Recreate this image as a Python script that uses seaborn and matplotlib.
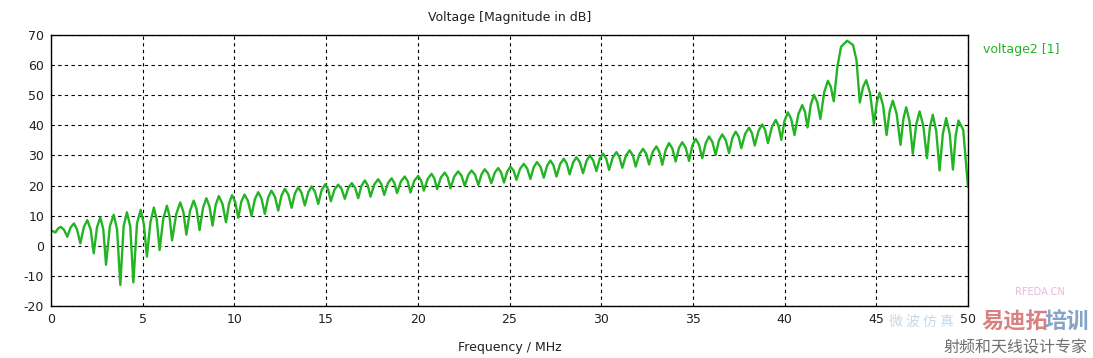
import matplotlib
matplotlib.use("Agg")
import matplotlib.pyplot as plt
import seaborn as sns
import pandas as pd

# ---- data ----
# local maxima of the trace
peak_freq = [0.00, 0.53, 1.25, 1.98, 2.69, 3.42, 4.14, 4.89, 5.61, 6.32, 7.05, 7.78,
             8.47, 9.15, 9.87, 10.55, 11.30, 12.02, 12.75, 13.48, 14.21, 14.95, 15.66,
             16.40, 17.11, 17.84, 18.57, 19.29, 20.02, 20.75, 21.47, 22.20, 22.93,
             23.65, 24.38, 25.05, 25.78, 26.50, 27.23, 27.96, 28.65, 29.38, 30.10,
             30.83, 31.55, 32.28, 33.01, 33.70, 34.42, 35.15, 35.88, 36.60, 37.33,
             38.06, 38.78, 39.52, 40.18, 40.96, 41.60, 42.36, 44.45, 45.18, 45.90,
             46.63, 47.36, 48.08, 48.81, 49.48, 50.00]
peak_db = [5.0, 6.3, 7.4, 8.5, 9.4, 10.3, 11.1, 11.9, 12.7, 13.3, 14.4, 15.0,
           15.8, 16.5, 16.8, 17.0, 17.8, 18.3, 18.9, 19.4, 19.7, 20.4, 20.3,
           20.8, 21.7, 22.1, 22.4, 23.0, 23.2, 23.9, 24.3, 24.7, 25.0,
           25.4, 25.8, 26.3, 27.2, 27.8, 28.3, 28.9, 29.4, 30.0, 30.6,
           31.1, 31.7, 32.2, 33.0, 34.1, 34.4, 35.5, 36.3, 37.0, 37.9,
           39.2, 40.3, 41.8, 44.3, 46.7, 50.1, 54.8, 55.0, 50.8, 48.2,
           46.0, 44.6, 43.5, 42.4, 41.6, 19.5]

# local minima (sharp notches)
dip_freq = [0.24, 0.89, 1.60, 2.33, 3.00, 3.78, 4.49, 5.23, 5.92, 6.60, 7.38, 8.10,
            8.81, 9.54, 10.21, 10.93, 11.66, 12.39, 13.12, 13.84, 14.57, 15.26,
            16.02, 16.75, 17.42, 18.17, 18.87, 19.60, 20.33, 21.05, 21.78, 22.56,
            23.30, 24.01, 24.70, 25.38, 26.14, 26.87, 27.56, 28.28, 29.01, 29.74,
            30.43, 31.15, 31.88, 32.61, 33.33, 34.06, 34.79, 35.51, 36.24, 36.97,
            37.64, 38.37, 39.09, 39.82, 40.54, 41.25, 41.95, 42.68, 44.10, 44.87,
            45.56, 46.32, 46.99, 47.76, 48.45, 49.18]
dip_db = [4.4, 3.0, 0.8, -2.5, -6.3, -13.0, -12.2, -3.6, -1.4, 1.8, 3.7, 5.2,
          6.7, 7.8, 9.3, 10.0, 10.6, 11.7, 12.6, 13.4, 13.9, 14.8,
          15.6, 15.8, 16.3, 16.9, 17.5, 17.7, 18.3, 18.8, 19.1, 19.9,
          20.2, 20.8, 21.0, 21.9, 22.2, 22.6, 23.0, 23.7, 24.1, 24.8,
          25.2, 25.9, 26.3, 27.0, 26.9, 28.0, 28.2, 29.1, 30.2, 30.8,
          32.4, 33.3, 34.1, 35.2, 36.8, 39.3, 42.1, 48.0, 47.6, 40.5,
          36.8, 33.5, 30.6, 29.1, 25.0, 25.3]

# points on the rounded flanks of each arch
shoulder_freq = [0.12, 0.38, 0.71, 1.07, 1.42, 1.79, 2.16, 2.51, 2.85, 3.21, 3.60, 3.96,
                 4.32, 4.69, 5.06, 5.42, 5.77, 6.12, 6.46, 6.83, 7.22, 7.58, 7.94, 8.29,
                 8.64, 8.98, 9.35, 9.71, 10.04, 10.38, 10.74, 11.12, 11.48, 11.84, 12.21,
                 12.57, 12.94, 13.30, 13.66, 14.03, 14.39, 14.76, 15.11, 15.46, 15.84,
                 16.21, 16.58, 16.93, 17.27, 17.63, 18.01, 18.37, 18.72, 19.08, 19.45,
                 19.81, 20.18, 20.54, 20.90, 21.26, 21.63, 21.99, 22.38, 22.75, 23.12,
                 23.48, 23.83, 24.20, 24.54, 24.88, 25.22, 25.58, 25.96, 26.32, 26.69,
                 27.05, 27.40, 27.76, 28.12, 28.47, 28.83, 29.20, 29.56, 29.92, 30.27,
                 30.63, 30.99, 31.35, 31.72, 32.08, 32.45, 32.81, 33.17, 33.52, 33.88,
                 34.24, 34.61, 34.97, 35.33, 35.70, 36.06, 36.42, 36.79, 37.15, 37.49,
                 37.85, 38.22, 38.58, 38.94, 39.31, 39.67, 40.00, 40.36, 40.75, 41.11,
                 41.43, 41.78, 42.16, 42.52, 44.28, 44.66, 45.03, 45.37, 45.73, 46.11,
                 46.48, 46.81, 47.18, 47.56, 47.92, 48.27, 48.63, 49.00, 49.33, 49.74]
shoulder_db = [4.8, 5.7, 5.3, 6.1, 5.4, 6.2, 5.5, 6.2, 5.5, 6.5, 5.5, 6.5,
               6.5, 7.5, 7.3, 7.8, 8.5, 8.9, 9.9, 10.6, 11.2, 11.6, 12.1, 12.6,
               13.1, 13.6, 13.9, 14.1, 14.6, 14.7, 14.9, 15.5, 15.6, 16.0, 16.3,
               16.7, 17.0, 17.4, 17.6, 17.8, 18.0, 18.5, 18.7, 18.7, 18.9,
               19.2, 19.3, 19.9, 20.1, 20.4, 20.5, 20.8, 20.9, 21.4, 21.4,
               21.6, 21.7, 22.2, 22.4, 22.7, 22.7, 23.0, 23.3, 23.5, 23.6,
               23.8, 24.0, 24.3, 24.4, 24.7, 25.0, 25.6, 25.7, 26.1, 26.2,
               26.6, 26.7, 27.1, 27.3, 27.7, 27.8, 28.2, 28.4, 28.9, 29.0,
               29.3, 29.5, 30.0, 30.1, 30.4, 30.6, 31.2, 31.2, 31.9, 32.3,
               32.5, 32.5, 33.3, 33.6, 34.1, 34.5, 35.0, 35.1, 35.8, 36.3,
               37.2, 37.4, 38.2, 38.4, 39.5, 39.8, 41.6, 42.1, 43.7, 44.5,
               46.9, 47.7, 51.0, 52.8, 52.8, 50.7, 47.7, 46.6, 44.8, 43.8,
               42.3, 41.4, 40.4, 40.0, 39.2, 38.0, 37.2, 37.3, 36.7, 38.5]

# main resonance dome near 43.4 MHz
dome_freq = [42.88, 43.08, 43.41, 43.73, 43.92]
dome_db = [59.5, 66.1, 68.1, 66.7, 61.7]

x_ticks = [0, 5, 10, 15, 20, 25, 30, 35, 40, 45, 50]
y_ticks = [-20, -10, 0, 10, 20, 30, 40, 50, 60, 70]

title = "Voltage [Magnitude in dB]"
xlabel = "Frequency / MHz"
legend_label = "voltage2 [1]"

df = pd.DataFrame({
    "freq": peak_freq + dip_freq + shoulder_freq + dome_freq,
    "db": peak_db + dip_db + shoulder_db + dome_db,
}).sort_values("freq").reset_index(drop=True)

# ---- style ----
sns.set_style("white")
plt.rcParams["font.family"] = ["DejaVu Sans"]
green = "#22b422"

fig = plt.figure(figsize=(10.93, 3.58), dpi=100)
W, H = 1093, 358
ax = fig.add_axes([51 / W, (H - 306) / H, (968 - 51) / W, (306 - 35) / H])

sns.lineplot(data=df, x="freq", y="db", ax=ax, color=green, linewidth=1.7,
             estimator=None, sort=False, legend=False)

ax.set_xlim(0, 50)
ax.set_ylim(-20, 70)
ax.set_xticks(x_ticks)
ax.set_yticks(y_ticks)
ax.set_xticklabels([str(t) for t in x_ticks])
ax.set_yticklabels([str(t) for t in y_ticks])
ax.set_xlabel("")
ax.set_ylabel("")
ax.grid(True, color="black", linestyle=(0, (3, 3)), linewidth=0.8)
ax.set_axisbelow(True)
for s in ax.spines.values():
    s.set_color("black")
    s.set_linewidth(1.0)
    s.set_visible(True)
ax.tick_params(axis="both", direction="out", length=3, width=0.8, color="black",
               labelsize=9, labelcolor="#202020", pad=2)

fig.text(509.5 / W, 1 - 17 / H, title, ha="center", va="center", fontsize=9, color="#202020")
fig.text(509.5 / W, 1 - 347 / H, xlabel, ha="center", va="center", fontsize=9, color="#202020")
fig.text(983 / W, 1 - 49 / H, legend_label, ha="left", va="center", fontsize=9, color=green)

# watermark of the source page
cjk = ["Noto Sans CJK SC", "DejaVu Sans"]
fig.text(921 / W, 1 - 322 / H, "微 波 仿 真", ha="center", va="center", fontsize=10,
         color="#9fc0dc", alpha=0.6, family=cjk, style="italic")
fig.text(1040 / W, 1 - 292 / H, "RFEDA.CN", ha="center", va="center", fontsize=7,
         color="#e0a8d0", alpha=0.8)
fig.text(1015 / W, 1 - 322 / H, "易迪拓", ha="center", va="center", fontsize=16,
         color="#d36a6a", alpha=0.85, family=cjk, weight="bold")
fig.text(1067 / W, 1 - 322 / H, "培训", ha="center", va="center", fontsize=16,
         color="#6f93bd", alpha=0.85, family=cjk, weight="bold")
fig.text(1015 / W, 1 - 348 / H, "射频和天线设计专家", ha="center", va="center", fontsize=11.5,
         color="#707070", family=cjk)

fig.savefig("out.png", dpi=100, facecolor="white")
